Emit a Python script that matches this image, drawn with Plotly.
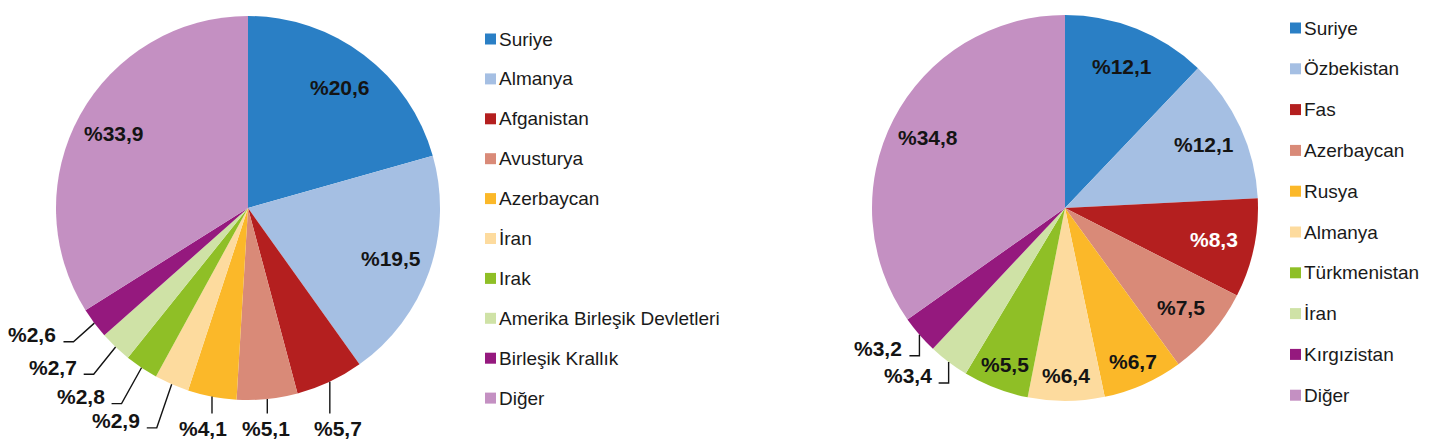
import math
import plotly.graph_objects as go

# The page body has an 8px margin, so the figure is drawn 8px in from the window edge.
OFF = 8
W, H = 1440 - 2 * OFF, 447 - 2 * OFF

# ---------------- data ----------------
left_labels = ["Suriye", "Almanya", "Afganistan", "Avusturya", "Azerbaycan", "İran", "Irak",
               "Amerika Birleşik Devletleri", "Birleşik Krallık", "Diğer"]
left_values = [20.6, 19.5, 5.7, 5.1, 4.1, 2.9, 2.8, 2.7, 2.6, 33.9]

right_labels = ["Suriye", "Özbekistan", "Fas", "Azerbaycan", "Rusya", "Almanya", "Türkmenistan",
                "İran", "Kırgızistan", "Diğer"]
right_values = [12.1, 12.1, 8.3, 7.5, 6.7, 6.4, 5.5, 3.4, 3.2, 34.8]

colors = ["#2A7FC5", "#A5BFE3", "#B41F1F", "#D98A78", "#FBB829", "#FDDB9E",
          "#8FBF26", "#CFE2A6", "#95197E", "#C490C2"]

# ---------------- layout parameters (window pixel coordinates) ----------------
FONT = "Liberation Sans, Arial, sans-serif"
LBL_SIZE = 21
LEG_SIZE = 19
DARK = "#141414"

pies = [
    dict(labels=left_labels, values=left_values, cx=248, cy=208, R=192,
         outside_below=6.0, style="radial",
         leg_x=485, leg_y0=39, leg_step=39.9),
    dict(labels=right_labels, values=right_values, cx=1065, cy=208, R=193,
         outside_below=5.0, style="vertical",
         leg_x=1290, leg_y0=28, leg_step=40.8),
]


def fmt(v):
    return "%" + f"{v:.1f}".replace(".", ",")


def luminance(hexcol):
    r, g, b = int(hexcol[1:3], 16), int(hexcol[3:5], 16), int(hexcol[5:7], 16)
    return 0.299 * r + 0.587 * g + 0.114 * b


fig = go.Figure()
annotations = []
shapes = []

for p in pies:
    cx, cy, R = p["cx"], p["cy"], p["R"]
    fig.add_trace(go.Pie(
        labels=p["labels"], values=p["values"],
        marker=dict(colors=colors, line=dict(width=0)),
        sort=False, direction="clockwise", rotation=0,
        textinfo="none", hoverinfo="label+percent", showlegend=False,
        domain=dict(x=[(cx - R - OFF) / W, (cx + R - OFF) / W],
                    y=[1 - (cy + R - OFF) / H, 1 - (cy - R - OFF) / H]),
    ))

    total = sum(p["values"])
    cum = 0.0
    for i, v in enumerate(p["values"]):
        th = 2 * math.pi * (cum + v / 2) / total
        cum += v
        s, c = math.sin(th), -math.cos(th)  # screen direction (y down)
        txt = fmt(v)
        if v >= p["outside_below"]:
            if v >= 30:
                rf = 0.8
            elif v >= 7:
                rf = 0.79
            else:
                rf = 0.87
            col = "#FFFFFF" if luminance(colors[i]) < 90 else DARK
            annotations.append(dict(
                x=cx + rf * R * s, y=cy + rf * R * c, xref="x", yref="y",
                text=txt, showarrow=False, xanchor="center", yanchor="middle",
                font=dict(family=FONT, size=LBL_SIZE, color=col, weight="bold")))
            continue
        ex, ey = cx + R * s, cy + R * c
        deg = math.degrees(th)
        if p["style"] == "radial" and 140 <= deg <= 195:
            y_end = cy + R * 1.07
            shapes.append(dict(type="line", xref="x", yref="y", x0=ex, y0=ey, x1=ex, y1=y_end,
                               line=dict(color=DARK, width=1.4)))
            annotations.append(dict(
                x=ex - (deg - 172) * 0.5, y=y_end + 2, xref="x", yref="y", text=txt,
                showarrow=False, xanchor="center", yanchor="top",
                font=dict(family=FONT, size=LBL_SIZE, color=DARK, weight="bold")))
            continue
        if p["style"] == "radial":
            rk = R * (1 + 0.27 * abs(math.cos(th)))
            kx, ky = cx + rk * s + 4, cy + rk * c
        else:
            kx, ky = ex, ey + 21
        shapes.append(dict(type="path", xref="x", yref="y",
                           path=f"M {ex},{ey} L {kx},{ky} L {kx - 10},{ky}",
                           line=dict(color=DARK, width=1.4)))
        annotations.append(dict(
            x=kx - 15, y=ky - 7, xref="x", yref="y", text=txt, showarrow=False,
            xanchor="right", yanchor="middle",
            font=dict(family=FONT, size=LBL_SIZE, color=DARK, weight="bold")))

    # legend
    for i, lab in enumerate(p["labels"]):
        yc = p["leg_y0"] + i * p["leg_step"]
        lx = p["leg_x"]
        shapes.append(dict(type="rect", xref="x", yref="y", x0=lx, x1=lx + 11,
                           y0=yc - 5.5, y1=yc + 5.5, fillcolor=colors[i], line=dict(width=0)))
        annotations.append(dict(
            x=lx + 12, y=yc, xref="x", yref="y", text=lab, showarrow=False,
            xanchor="left", yanchor="middle",
            font=dict(family=FONT, size=LEG_SIZE, color="#1a1a1a")))

fig.update_layout(
    width=W, height=H,
    margin=dict(l=0, r=0, t=0, b=0),
    paper_bgcolor="white", plot_bgcolor="rgba(0,0,0,0)",
    xaxis=dict(range=[OFF, OFF + W], visible=False, fixedrange=True),
    yaxis=dict(range=[OFF + H, OFF], visible=False, fixedrange=True),
    showlegend=False,
    annotations=annotations,
    shapes=shapes,
)

fig.write_html("out.html")
